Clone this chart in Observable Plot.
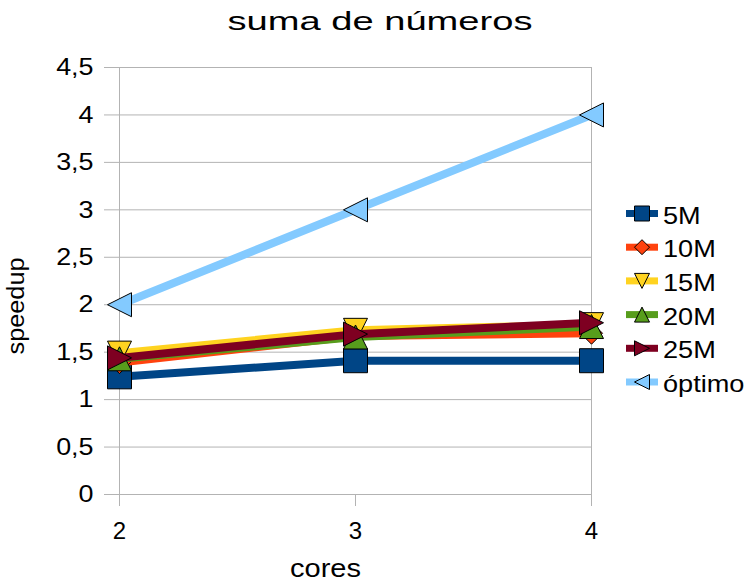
<!DOCTYPE html>
<html><head><meta charset="utf-8">
<script src="https://cdn.jsdelivr.net/npm/d3@7"></script>
<script src="https://cdn.jsdelivr.net/npm/@observablehq/plot@0.6"></script>
<style>body{margin:0;background:#fff}</style>
</head><body><div id="chart"></div>
<script>
// ---- data ----
const cores = [2, 3, 4];
const seriesNames = ["5M", "10M", "15M", "20M", "25M", "óptimo"];
const s5M = [1.24, 1.41, 1.41];
const s10M = [1.39, 1.67, 1.70];
const s15M = [1.49, 1.73, 1.79];
const s20M = [1.43, 1.66, 1.77];
const s25M = [1.44, 1.69, 1.81];
const optimo = [2, 3, 4];
const yTicks = [0, 0.5, 1, 1.5, 2, 2.5, 3, 3.5, 4, 4.5];
const xTicks = [2, 3, 4];
const titleText = "suma de números";
const xLabel = "cores";
const yLabel = "speedup";

// ---- styles ----
const colors = ["#004586", "#ff420e", "#ffd320", "#579d1c", "#7e0021", "#83caff"];
function poly(pts) {
  return {draw(ctx, size) {
    const h = Math.sqrt(size) / 2;
    ctx.moveTo(pts[0][0] * h, pts[0][1] * h);
    for (let i = 1; i < pts.length; i++) ctx.lineTo(pts[i][0] * h, pts[i][1] * h);
    ctx.closePath();
  }};
}
const symbols = [
  poly([[-1,-1],[1,-1],[1,1],[-1,1]]),   // square
  poly([[0,-1],[1,0],[0,1],[-1,0]]),     // diamond
  poly([[-1,-1],[1,-1],[0,1]]),          // triangle down
  poly([[0,-1],[1,1],[-1,1]]),           // triangle up
  poly([[-1,-1],[1,0],[-1,1]]),          // triangle right
  poly([[1,-1],[-1,0],[1,1]])            // triangle left
];
const markerSide = [24, 22, 24, 24, 24, 24];
const allValues = [s5M, s10M, s15M, s20M, s25M, optimo];
const grid = "#b3b3b3";
const fmt = d => String(d).replace(".", ",");

const seriesMarks = [];
allValues.forEach((vals, i) => {
  const rows = cores.map((c, j) => ({core: c, value: vals[j], series: seriesNames[i]}));
  seriesMarks.push(Plot.line(rows, {x: "core", y: "value", stroke: colors[i], strokeWidth: 8, strokeLinejoin: "round"}));
  seriesMarks.push(Plot.dot(rows, {x: "core", y: "value", symbol: symbols[i], r: markerSide[i] / Math.sqrt(Math.PI),
    fill: colors[i], stroke: "black", strokeWidth: 1}));
});

const plot = Plot.plot({
  width: 748, height: 584,
  marginLeft: 119, marginRight: 157, marginTop: 67, marginBottom: 90,
  style: {fontFamily: "'Liberation Sans', Arial, sans-serif", fontSize: "24px", color: "#000", background: "#fff"},
  x: {domain: [2, 4]},
  y: {domain: [0, 4.5]},
  marks: [
    Plot.gridY(yTicks, {stroke: grid, strokeOpacity: 1}),
    Plot.ruleX([2, 4], {stroke: grid}),
    Plot.axisY({ticks: yTicks, tickSize: 15, tickPadding: 11, stroke: grid, strokeOpacity: 1, tickFormat: fmt, label: null}),
    Plot.axisX({ticks: xTicks, tickSize: 12, tickPadding: 15, stroke: grid, strokeOpacity: 1, tickFormat: d => String(d), label: null}),
    ...seriesMarks
  ]
});
document.getElementById("chart").appendChild(plot);

const svg = d3.select(plot);
function stretch(sel, k) {
  sel.each(function() {
    const len = this.getComputedTextLength();
    this.setAttribute("textLength", len * k);
    this.setAttribute("lengthAdjust", "spacingAndGlyphs");
  });
}
stretch(svg.selectAll('g[aria-label="y-axis tick label"] text'), 1.12);

// title
svg.append("text").attr("x", 380).attr("y", 30).attr("text-anchor", "middle")
  .attr("font-size", 25).attr("fill", "#000").text(titleText)
  .attr("textLength", 305).attr("lengthAdjust", "spacingAndGlyphs");
// x label
svg.append("text").attr("x", 325.5).attr("y", 577).attr("text-anchor", "middle")
  .attr("font-size", 25).attr("fill", "#000").text(xLabel)
  .attr("textLength", 71).attr("lengthAdjust", "spacingAndGlyphs");
// y label
svg.append("text").attr("transform", "translate(24,306) rotate(-90)").attr("text-anchor", "middle")
  .attr("font-size", 23).attr("fill", "#000").text(yLabel)
  .attr("textLength", 97).attr("lengthAdjust", "spacingAndGlyphs");

// legend
const lg = svg.append("g").attr("text-anchor", "start");
seriesNames.forEach((name, i) => {
  const y = 213.5 + 33.7 * i;
  lg.append("line").attr("x1", 626).attr("x2", 658).attr("y1", y).attr("y2", y)
    .attr("stroke", colors[i]).attr("stroke-width", 7);
  lg.append("path").attr("transform", `translate(642,${y})`)
    .attr("d", d3.symbol(symbols[i], 225)()).attr("fill", colors[i]).attr("stroke", "black").attr("stroke-width", 1);
  const tx = lg.append("text").attr("x", 663).attr("y", y + 10).attr("text-anchor", "start")
    .attr("font-size", 24).attr("fill", "#000").text(name);
  stretch(tx, 1.13);
});
</script></body></html>
